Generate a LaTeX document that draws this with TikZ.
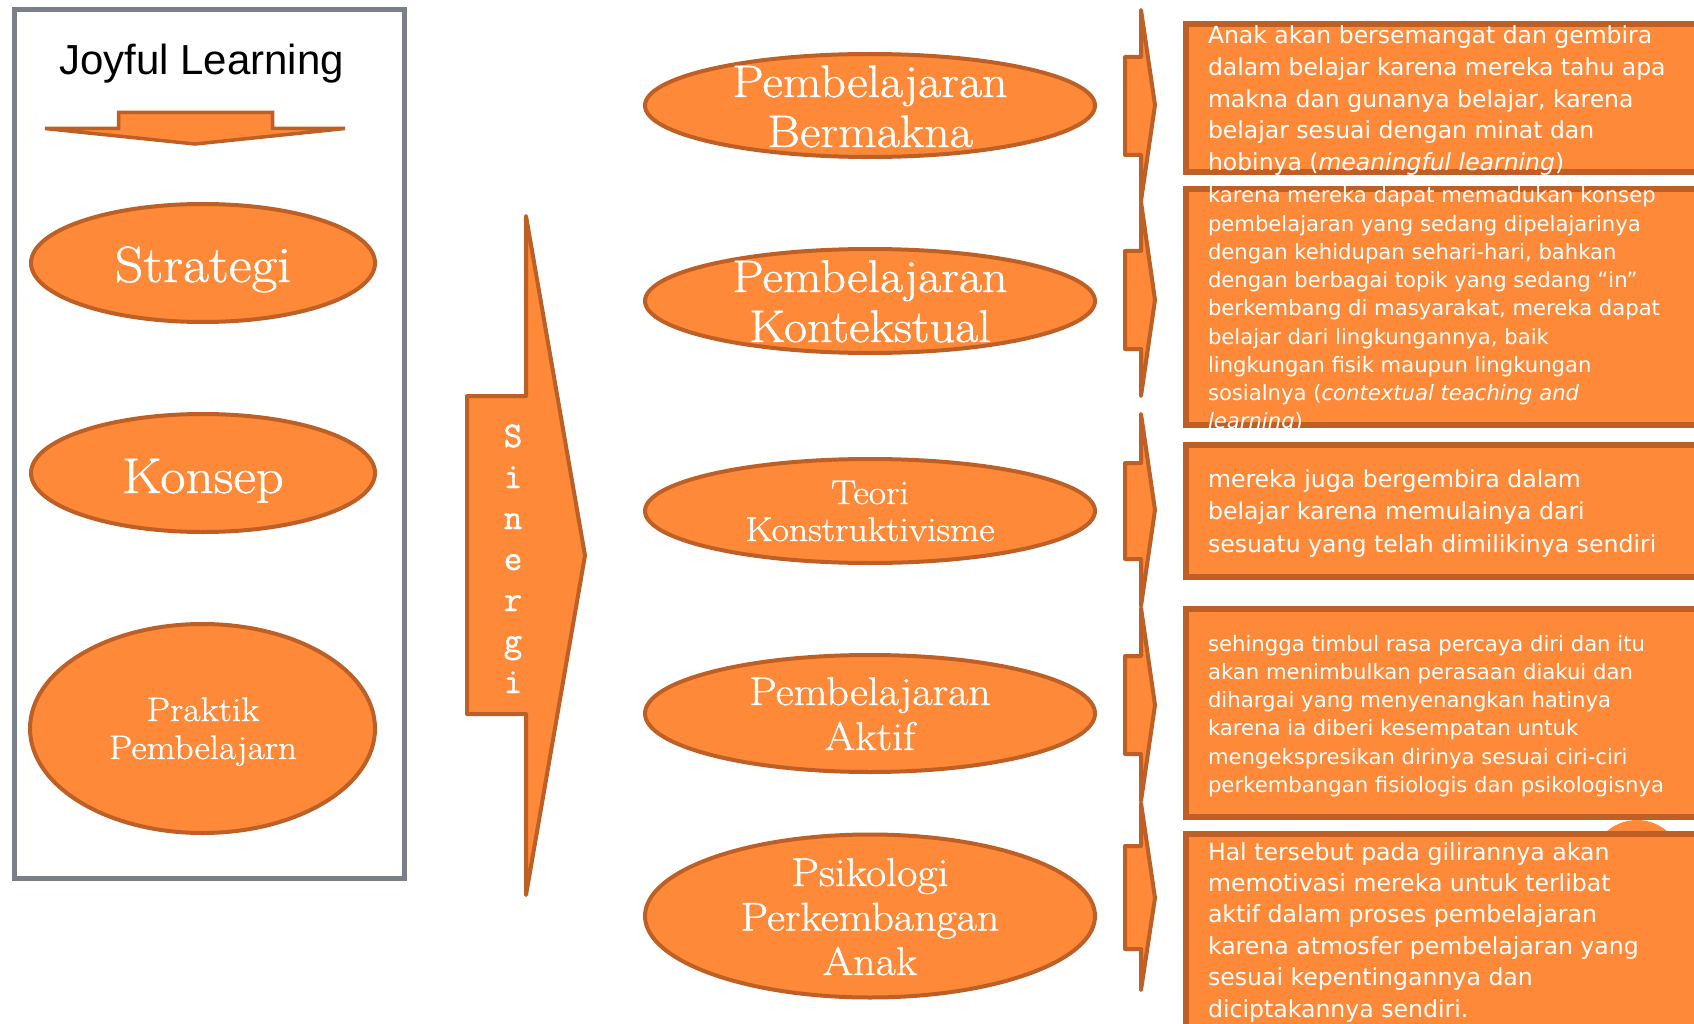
\documentclass[tikz,border=0pt]{standalone}
\usepackage{fontspec}
\usetikzlibrary{shapes.geometric}
\newfontfamily\boxfont{DejaVu Sans}
\newfontfamily\titlefont{Liberation Sans}
\newfontfamily\serx{Latin Modern Roman}[FakeStretch=1.1,FakeBold=1]
\newfontfamily\sinfont{Latin Modern Mono}[FakeBold=1.2]
\definecolor{org}{RGB}{253,137,57}
\definecolor{orgdk}{RGB}{190,96,38}
\definecolor{frm}{RGB}{122,127,136}
\tikzset{
  shp/.style={fill=org,draw=orgdk,line width=4pt,line join=round},
  ell/.style={ellipse,shp,inner sep=0pt,outer sep=0pt},
  bx/.style={rectangle,fill=org,draw=orgdk,line width=6pt,inner sep=0pt,outer sep=0pt,anchor=north west},
  wt/.style={text=white,inner sep=0pt,outer sep=0pt},
  bt/.style={wt,anchor=base west},
  et/.style={wt,anchor=base},
}
\newcommand{\fs}[2]{\fontsize{#1}{#2}\selectfont}
\begin{document}
\begin{tikzpicture}[x=1pt,y=-1pt]
\useasboundingbox (0,0) rectangle (1694,1024);
\clip (0,0) rectangle (1694,1024);

% left frame
\node[draw=frm,line width=5pt,rectangle,inner sep=0pt,outer sep=0pt,anchor=north west,
      minimum width=390pt,minimum height=868pt] (frame) at (14.5,10) {};
\node[anchor=base,inner sep=0pt,font=\titlefont\fs{42}{48}] (title) at (201.5,75) {Joyful Learning};
\draw[shp,line width=3.5pt,line join=miter] (45,128.5) -- (118.5,128.5) -- (118.5,112.5) -- (272.5,112.5)
   -- (272.5,128.5) -- (345,128.5) -- (195,144) -- cycle;

% left ellipses
\node[ell,minimum width=344pt,minimum height=118pt] (strat) at (203,263) {};
\node[et,font=\serx\fs{51}{56}] (stratT) at (203,282) {Strategi};
\node[ell,minimum width=344pt,minimum height=118pt] (kons) at (203,473) {};
\node[et,font=\serx\fs{50}{56}] (konsT) at (203,493) {Konsep};
\node[ell,minimum width=345pt,minimum height=209pt] (prak) at (202.5,728.5) {};
\node[et,font=\serx\fs{34}{38}] (prakT) at (203,721) {\begin{tabular}[t]{@{}c@{}}Praktik\\Pembelajarn\end{tabular}};

% Sinergi arrow
\draw[shp] (467,396) coordinate (sA) -- (526,396) -- (526,216) -- (585,555.5) coordinate (sTip)
   -- (526,895) -- (526,714) -- (467,714) -- cycle;
\node[et,font=\sinfont\fs{36}{41}] (sin) at (513,447)
  {\begin{tabular}[t]{@{}c@{}}S\\i\\n\\e\\r\\g\\i\end{tabular}};

% middle ellipses
\node[ell,minimum width=450pt,minimum height=103pt] (e1) at (870,105.5) {};
\node[et,font=\serx\fs{45.6}{50}] (e1T) at (870,97) {\begin{tabular}[t]{@{}c@{}}Pembelajaran\\Bermakna\end{tabular}};
\node[ell,minimum width=450pt,minimum height=104pt] (e2) at (870,301) {};
\node[et,font=\serx\fs{45.6}{50}] (e2T) at (870,292) {\begin{tabular}[t]{@{}c@{}}Pembelajaran\\Kontekstual\end{tabular}};
\node[ell,minimum width=450pt,minimum height=104pt] (e3) at (870,511) {};
\node[et,font=\serx\fs{34.3}{37}] (e3T) at (870,504) {\begin{tabular}[t]{@{}c@{}}Teori\\Konstruktivisme\end{tabular}};
\node[ell,minimum width=450pt,minimum height=117pt] (e4) at (870,713.5) {};
\node[et,font=\serx\fs{40}{45}] (e4T) at (870,705) {\begin{tabular}[t]{@{}c@{}}Pembelajaran\\Aktif\end{tabular}};
\node[ell,minimum width=450pt,minimum height=163pt] (e5) at (870,916) {};
\node[et,font=\serx\fs{40}{44.5}] (e5T) at (870,886) {\begin{tabular}[t]{@{}c@{}}Psikologi\\Perkembangan\\Anak\end{tabular}};

% right chevrons
\foreach \T/\ST/\M/\SB/\B [count=\i] in {10/57/105/155/201, 202/251/300/349/396, 414/463/510/559/606, 608/656/705/754/801, 803/846/898/949/990}{
  \draw[shp] (1141,\T) -- (1155,\M) coordinate (c\i) -- (1141,\B) -- (1141,\SB) -- (1125,\SB) -- (1125,\ST) -- (1141,\ST) -- cycle;
}

% hidden circle
\fill[org] (1637,866) circle[radius=46pt];

% right boxes
\node[bx,minimum width=520pt,minimum height=148pt] (b1) at (1186,24) {};
\node[bx,minimum width=520pt,minimum height=236pt] (b2) at (1186,189) {};
\node[bx,minimum width=520pt,minimum height=132pt] (b3) at (1186,445) {};
\node[bx,minimum width=520pt,minimum height=208pt] (b4) at (1186,609) {};
\node[bx,minimum width=520pt,minimum height=220pt] (b5) at (1186,834) {};

\node[bt,font=\boxfont\fs{23.5}{31.6}] (t1) at (1208,44) {\begin{tabular}[t]{@{}l@{}}
Anak akan bersemangat dan gembira\\
dalam belajar karena mereka tahu apa\\
makna dan gunanya belajar, karena\\
belajar sesuai dengan minat dan\\
hobinya (\textit{meaningful learning})\end{tabular}};

\node[bt,font=\boxfont\fs{21.15}{28.25}] (t2) at (1208,203) {\begin{tabular}[t]{@{}l@{}}
karena mereka dapat memadukan konsep\\
pembelajaran yang sedang dipelajarinya\\
dengan kehidupan sehari-hari, bahkan\\
dengan berbagai topik yang sedang “in”\\
berkembang di masyarakat, mereka dapat\\
belajar dari lingkungannya, baik\\
lingkungan fisik maupun lingkungan\\
sosialnya (\textit{contextual teaching and}\\
\textit{learning})\end{tabular}};

\node[bt,font=\boxfont\fs{23.6}{32.5}] (t3) at (1208,487) {\begin{tabular}[t]{@{}l@{}}
mereka juga bergembira dalam\\
belajar karena memulainya dari\\
sesuatu yang telah dimilikinya sendiri\end{tabular}};

\node[bt,font=\boxfont\fs{21.2}{28.3}] (t4) at (1208,651) {\begin{tabular}[t]{@{}l@{}}
sehingga timbul rasa percaya diri dan itu\\
akan menimbulkan perasaan diakui dan\\
dihargai yang menyenangkan hatinya\\
karena ia diberi kesempatan untuk\\
mengekspresikan dirinya sesuai ciri-ciri\\
perkembangan fisiologis dan psikologisnya\end{tabular}};

\node[bt,font=\boxfont\fs{23.6}{31.4}] (t5) at (1208,860) {\begin{tabular}[t]{@{}l@{}}
Hal tersebut pada gilirannya akan\\
memotivasi mereka untuk terlibat\\
aktif dalam proses pembelajaran\\
karena atmosfer pembelajaran yang\\
sesuai kepentingannya dan\\
diciptakannya sendiri.\end{tabular}};
\end{tikzpicture}
\end{document}
